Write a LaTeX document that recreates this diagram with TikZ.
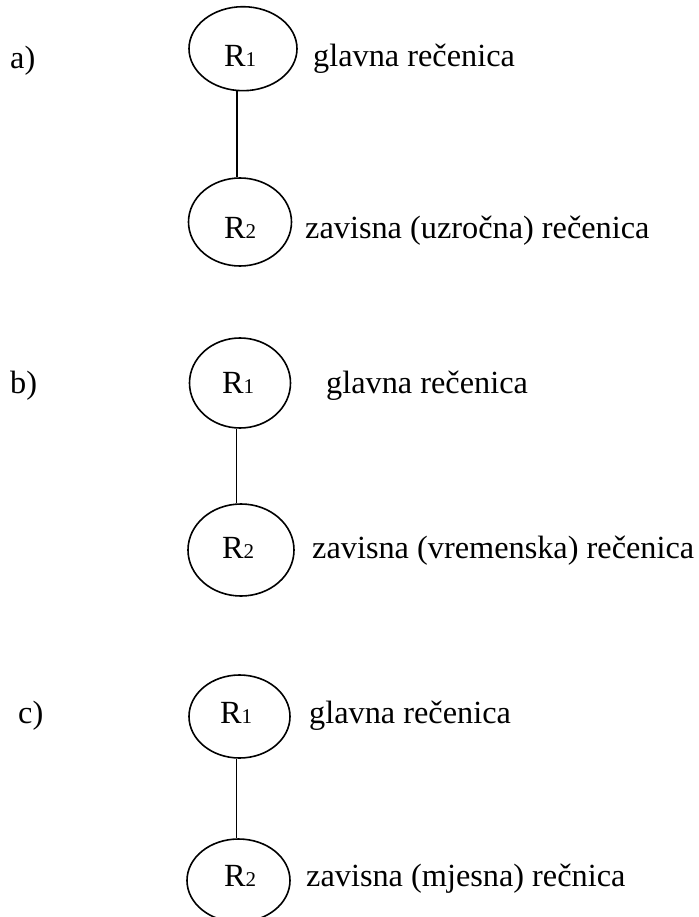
\documentclass[tikz,border=0pt]{standalone}
\usepackage{fontspec}
\usetikzlibrary{shapes.geometric}
\setmainfont{Liberation Serif}
\newcommand{\wtxt}[1]{{\fontsize{32.3}{37}\selectfont #1}}
\newcommand{\rlab}[1]{{\fontsize{32.3}{37}\selectfont R{\fontsize{21}{24}\selectfont #1}}}
\begin{document}
\begin{tikzpicture}[x=1pt,y=-1pt,
  sent/.style={draw=black,line width=1.6pt,ellipse,inner sep=0pt},
  txt/.style={anchor=base west,inner sep=0pt},
  link/.style={line width=1.3pt}]
\useasboundingbox (0,0) rectangle (698,917);
% a)
\node[txt] (la) at (10,69) {\wtxt{a)}};
\node[sent,minimum width=108,minimum height=84] (r1a) at (243,48.7) {};
\node[sent,minimum width=103,minimum height=88] (r2a) at (240,222) {};
\node[txt] (r1at) at (224,67) {\rlab{1}};
\node[txt] (r2at) at (224,239) {\rlab{2}};
\node[txt] (g1a) at (313,67) {\wtxt{glavna rečenica}};
\node[txt] (z2a) at (305,239) {\wtxt{zavisna (uzročna) rečenica}};
\draw[link] ([xshift=-6]r1a.south) -- ([xshift=-3]r2a.north);
% b)
\node[txt] (lb) at (10,393) {\wtxt{b)}};
\node[sent,minimum width=101,minimum height=90] (r1b) at (240,383) {};
\node[sent,minimum width=106,minimum height=92] (r2b) at (241,550) {};
\node[txt] (r1bt) at (222,393) {\rlab{1}};
\node[txt] (r2bt) at (222,558) {\rlab{2}};
\node[txt] (g1b) at (326,393) {\wtxt{glavna rečenica}};
\node[txt] (z2b) at (312,558) {\wtxt{zavisna (vremenska) rečenica}};
\draw[link] ([xshift=-3.5]r1b.south) -- ([xshift=-4.5]r2b.north);
% c)
\node[txt] (lc) at (18,723) {\wtxt{c)}};
\node[sent,minimum width=101,minimum height=83] (r1c) at (239.5,716.5) {};
\node[sent,minimum width=103,minimum height=83] (r2c) at (238.5,880.5) {};
\node[txt] (r1ct) at (220,723) {\rlab{1}};
\node[txt] (r2ct) at (224,886) {\rlab{2}};
\node[txt] (g1c) at (309,723) {\wtxt{glavna rečenica}};
\node[txt] (z2c) at (306,886) {\wtxt{zavisna (mjesna) rečnica}};
\draw[link] ([xshift=-3]r1c.south) -- ([xshift=-2]r2c.north);
\end{tikzpicture}
\end{document}
